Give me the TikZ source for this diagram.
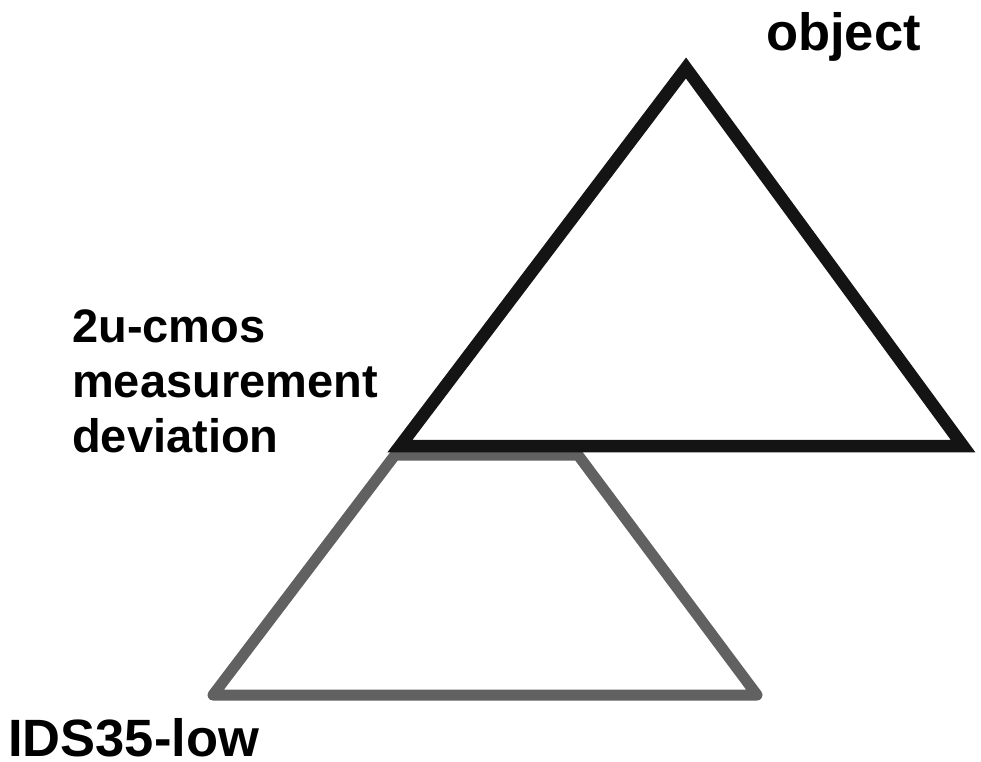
\documentclass[tikz,border=0pt]{standalone}
\usepackage{fontspec}
\setmainfont{Liberation Sans}
\begin{document}
\begin{tikzpicture}[x=1pt,y=-1pt,
  blackedge/.style={line width=12.5pt, draw=black!92, line join=miter},
  grayedge/.style={line width=11pt, draw=black!62, line join=round},
  lbl/.style={inner sep=0pt, font=\fontsize{47}{55}\selectfont\bfseries, align=left},
  biglbl/.style={inner sep=0pt, font=\fontsize{52.5}{60}\selectfont\bfseries}]
\useasboundingbox (0,0) rectangle (981,761);
% gray trapezoid (lower)
\coordinate (gTL) at (395,455);
\coordinate (gTR) at (578,455);
\coordinate (gBR) at (757,695);
\coordinate (gBL) at (213,695);
\draw[grayedge] (gTL) -- (gTR) -- (gBR) -- (gBL) -- cycle;
% black triangle (upper)
\coordinate (bA) at (686,68);
\coordinate (bL) at (400,446);
\coordinate (bR) at (963,446);
\draw[blackedge] (bA) -- (bR) -- (bL) -- cycle;
% labels
\node[biglbl, anchor=base west] (obj) at (766,50) {object};
\node[lbl, anchor=north west] (cmos) at (72,309) {2u-cmos\\measurement\\deviation};
\node[biglbl, anchor=base west] (ids) at (8,756) {IDS35-low};
\end{tikzpicture}
\end{document}
